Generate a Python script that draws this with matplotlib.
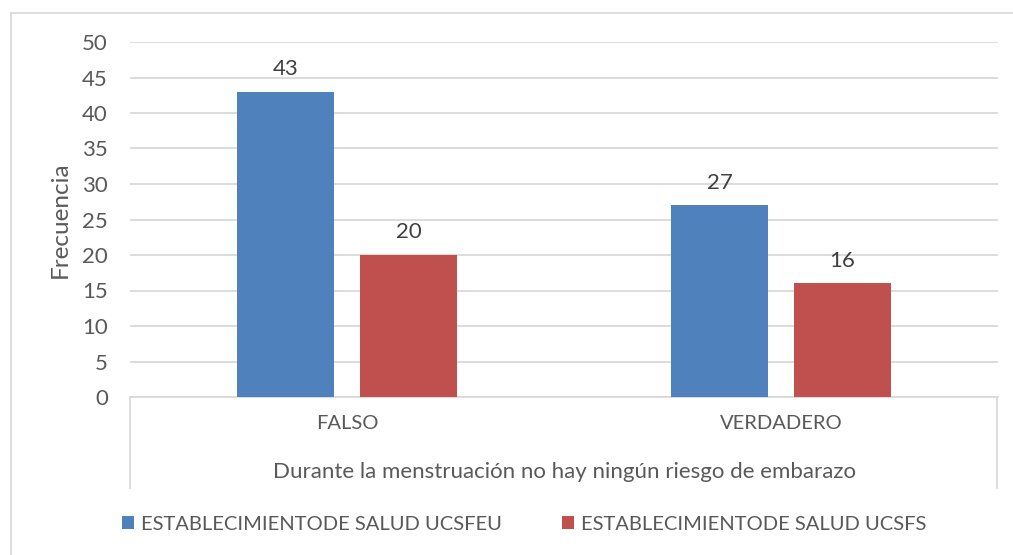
import matplotlib.pyplot as plt
import numpy as np
from matplotlib.lines import Line2D
from matplotlib.patches import Rectangle

plt.rcParams["font.family"] = ["Lato", "DejaVu Sans"]

# data
categories = ["FALSO", "VERDADERO"]
series_names = ["ESTABLECIMIENTODE SALUD UCSFEU", "ESTABLECIMIENTODE SALUD UCSFS"]
ucsfeu = [43, 27]
ucsfs = [20, 16]
yticks = [0, 5, 10, 15, 20, 25, 30, 35, 40, 45, 50]

blue = "#4F81BD"
red = "#C0504D"
text_col = "#595959"
grid_col = "#D9D9D9"

W, H = 1013, 555
fig = plt.figure(figsize=(W / 100, H / 100), dpi=100)
ax = fig.add_axes([130 / W, 1 - 397 / H, 868 / W, 355 / H])

x = np.arange(len(categories))
width = 0.2235
offset = 0.1417

b1 = ax.bar(x - offset, ucsfeu, width, color=blue, label=series_names[0], zorder=3)
b2 = ax.bar(x + offset, ucsfs, width, color=red, label=series_names[1], zorder=3)

for bars in (b1, b2):
    for rect in bars:
        ax.annotate(str(int(rect.get_height())),
                    (rect.get_x() + rect.get_width() / 2, rect.get_height()),
                    xytext=(0, 9), textcoords="offset points",
                    ha="center", va="bottom", fontsize=16, color="#404040")

ax.set_xlim(-0.5, 1.5)
ax.set_ylim(0, 50)
ax.set_yticks(yticks)
ax.yaxis.grid(True, color=grid_col, linewidth=1.3, zorder=0)
ax.set_xticks(x)
ax.set_xticklabels(categories)
ax.tick_params(axis="x", length=0, pad=13, labelsize=14.5, labelcolor=text_col)
ax.tick_params(axis="y", length=0, pad=16, labelsize=16, labelcolor=text_col)

for s in ["top", "right", "left"]:
    ax.spines[s].set_visible(False)
ax.spines["bottom"].set_color(grid_col)
ax.spines["bottom"].set_linewidth(1.3)

ax.set_ylabel("Frecuencia", fontsize=17.5, color=text_col, labelpad=8)

# category box sides
for px in (130, 997):
    fig.add_artist(Line2D([px / W, px / W], [1 - 397 / H, 1 - 488 / H],
                          color=grid_col, linewidth=1.3))

fig.text(564 / W, 1 - 472 / H, "Durante la menstruación no hay ningún riesgo de embarazo",
         ha="center", va="center", fontsize=16, color=text_col)

# outer chart border
fig.add_artist(Rectangle((11 / W, -0.1), 1.2, 1 - 13 / H + 0.1, transform=fig.transFigure,
                         fill=False, edgecolor=grid_col, linewidth=1.3))

fig.legend(handles=[b1, b2], loc="center", bbox_to_anchor=(524 / W, 1 - 524 / H),
           ncol=2, frameon=False, fontsize=14.5, labelcolor=text_col,
           handlelength=0.6, handleheight=0.6, handletextpad=0.35, columnspacing=3.0)

plt.savefig("out.png", dpi=100)
